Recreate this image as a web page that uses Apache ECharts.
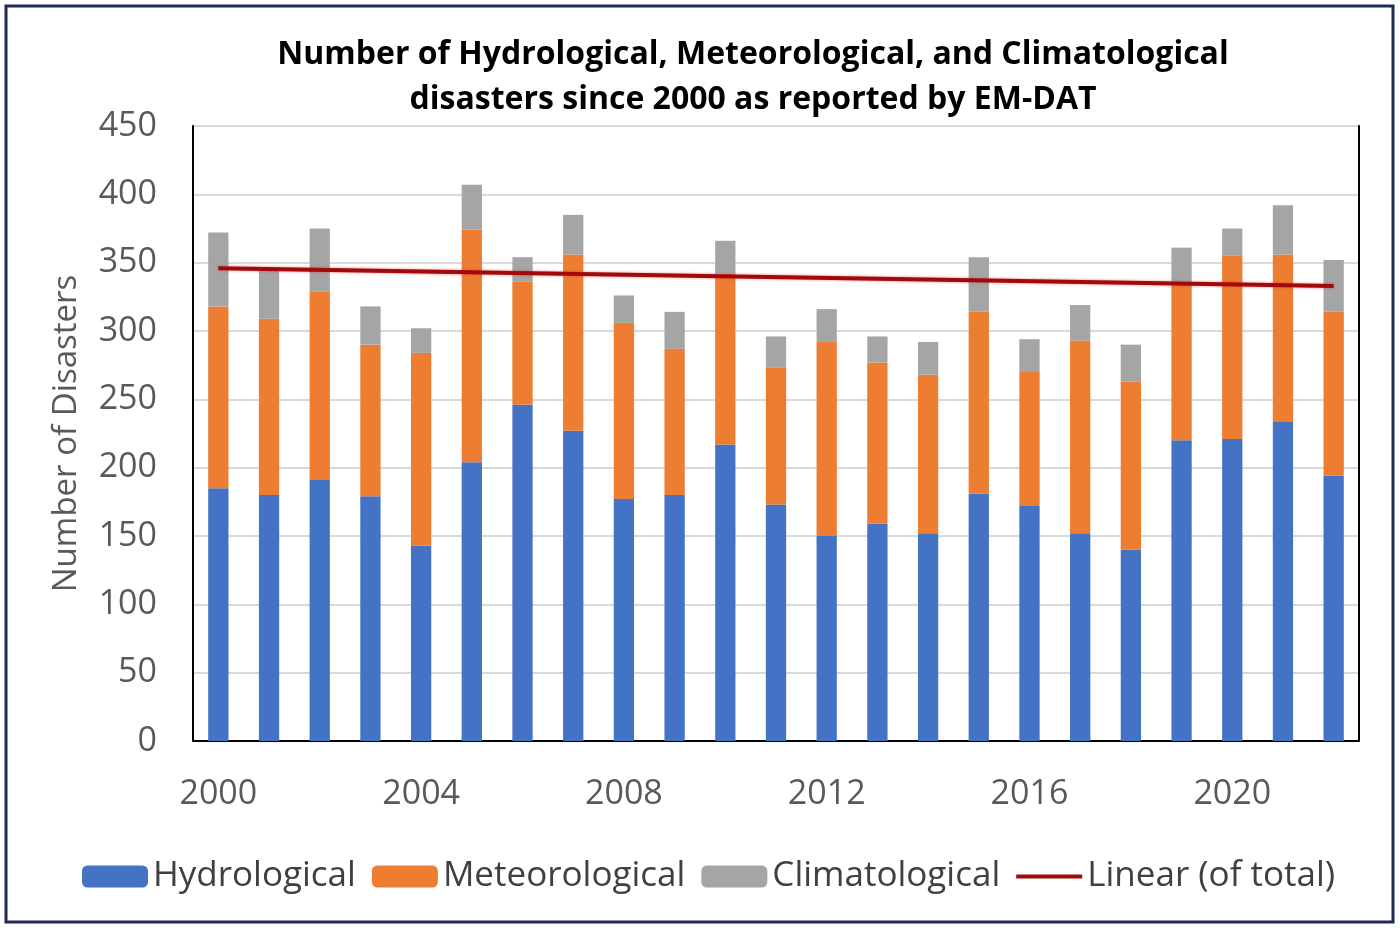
<!DOCTYPE html>
<html>
<head>
<meta charset="utf-8">
<script src="https://cdn.jsdelivr.net/npm/echarts@6/dist/echarts.min.js"></script>
<style>
html,body{margin:0;padding:0;background:#fff;}
#c{width:1400px;height:930px;}
</style>
</head>
<body>
<div id="c"></div>
<script>
const years = ['2000','2001','2002','2003','2004','2005','2006','2007','2008','2009','2010','2011','2012','2013','2014','2015','2016','2017','2018','2019','2020','2021','2022'];
// cumulative tops of each stacked segment
const hydroTop = [185,180,191,179,143,204,246,227,177,180,217,173,150,159,152,181,172,152,140,220,221,234,194];
const meteoTop = [318,309,329,290,284,374,336,356,306,287,342,273,292,277,268,314,270,293,263,336,355,356,314];
const climaTop = [372,344,375,318,302,407,354,385,326,314,366,296,316,296,292,354,294,319,290,361,375,392,352];
const trendEnds = [346, 333];
const yTicks = [0,50,100,150,200,250,300,350,400,450];

const hydro = hydroTop;
const meteo = meteoTop.map((v,i)=>v-hydroTop[i]);
const clima = climaTop.map((v,i)=>v-meteoTop[i]);

const FONT = 'Open Sans';
const chart = echarts.init(document.getElementById('c'), null, {renderer:'canvas'});
chart.setOption({
  animation:false,
  backgroundColor:'#fff',
  textStyle:{fontFamily:FONT},
  graphic:[{type:'rect',shape:{x:6,y:6,width:1387,height:916},style:{fill:'none',stroke:'#1c2b52',lineWidth:3},z:100}],
  title:{
    text:'Number of Hydrological, Meteorological, and Climatological\ndisasters since 2000 as reported by EM-DAT',
    left:748, textAlign:'center', top:27,
    textStyle:{fontFamily:FONT,fontWeight:'bold',fontSize:32,color:'#000',lineHeight:45}
  },
  legend:{
    bottom:31, left:77,
    itemWidth:66, itemHeight:22, itemGap:16, symbolKeepAspect:true,
    textStyle:{fontFamily:FONT,fontSize:35,color:'#404040'},
    data:['Hydrological','Meteorological','Climatological',
      {name:'Linear (of total)', icon:'path://M0,0 L66,0 L66,4 L0,4 Z', itemStyle:{color:'#A00A0A'}}]
  },
  grid:{left:193,right:41,top:126,bottom:189,containLabel:false},
  xAxis:[{
    type:'category', data:years,
    axisLine:{show:true,lineStyle:{color:'#bfbfbf',width:2}},
    axisTick:{show:false},
    axisLabel:{interval:3,fontFamily:FONT,fontSize:34,color:'#595959',margin:36}
  },{
    type:'category', data:years, position:'top',
    axisLine:{show:true,lineStyle:{color:'#000',width:2}},
    axisTick:{show:false}, axisLabel:{show:false}, splitLine:{show:false}
  }],
  yAxis:[{
    type:'value', min:yTicks[0], max:yTicks[yTicks.length-1], interval:50,
    name:'Number of Disasters', nameLocation:'middle', nameGap:110,
    nameTextStyle:{fontFamily:FONT,fontSize:33,color:'#595959'},
    axisLine:{show:true,lineStyle:{color:'#000',width:2}}, axisTick:{show:false},
    axisLabel:{fontFamily:FONT,fontSize:34,color:'#595959',margin:36},
    splitLine:{lineStyle:{color:'#d9d9d9',width:2}}
  },{
    type:'value', min:yTicks[0], max:yTicks[yTicks.length-1], interval:50, position:'right',
    axisLine:{show:true,lineStyle:{color:'#000',width:2}}, axisTick:{show:false},
    axisLabel:{show:false}, splitLine:{show:false}
  }],
  series:[
    {name:'Hydrological',type:'bar',stack:'t',data:hydro,barWidth:'40%',itemStyle:{color:'#4472C4'}},
    {name:'Meteorological',type:'bar',stack:'t',data:meteo,barWidth:'40%',itemStyle:{color:'#ED7D31'}},
    {name:'Climatological',type:'bar',stack:'t',data:clima,barWidth:'40%',itemStyle:{color:'#A5A5A5'}},
    {name:'Linear (of total)',type:'line',symbol:'none',z:10,
     data:[[years[0],trendEnds[0]],[years[years.length-1],trendEnds[1]]],
     lineStyle:{color:'#A00A0A',width:4,shadowColor:'rgba(230,40,40,0.6)',shadowBlur:3},
     itemStyle:{color:'#A00A0A'}}
  ]
});
</script>
</body>
</html>
